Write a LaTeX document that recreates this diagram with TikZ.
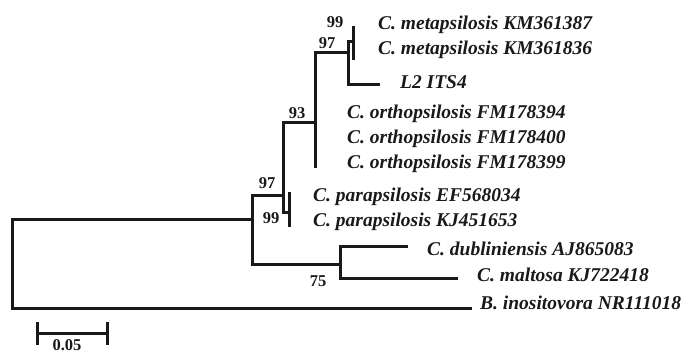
\documentclass[tikz,border=0pt]{standalone}
\usepackage{fontspec}
\setmainfont{Liberation Serif}
\usetikzlibrary{positioning}

\begin{document}
\begin{tikzpicture}[x=1pt, y=-1pt,
    branch/.style={line width=3pt, draw=black!90},
    taxon/.style={anchor=base west, inner sep=0pt, text=black!90,
                  font=\fontsize{19.5}{20}\selectfont\bfseries\itshape},
    support/.style={inner sep=0pt, text=black!90,
                    font=\fontsize{16.5}{17}\selectfont\bfseries}]
    \useasboundingbox (0,0) rectangle (689,353);
    % --- Nos internos ---
    \coordinate (root) at (12,260);
    \coordinate (nA) at (252,219);
    \coordinate (nB) at (283,195);
    \coordinate (n93) at (315,123);
    \coordinate (orthoEnd) at (315,168);
    \coordinate (n97) at (348,53);
    \coordinate (nMeta) at (353,42);
    \coordinate (metaTop) at (353,26);
    \coordinate (metaBot) at (353,60);
    \coordinate (nPara) at (289,212);
    \coordinate (paraTop) at (289,192);
    \coordinate (paraBot) at (289,227);
    \coordinate (n75) at (340,264);
    % --- Pontas dos ramos ---
    \coordinate (l2End) at (380,85);
    \coordinate (dubEnd) at (408,246);
    \coordinate (malEnd) at (458,278);
    \coordinate (inosEnd) at (472,308);
    % --- Ramos ---
    \draw[branch] (nA) -| (root) |- (inosEnd);
    \draw[branch] (nB) -| (nA) |- (n75);
    \draw[branch] (n93) -| (nB) |- (nPara);
    \draw[branch] (n97) -| (n93) -- (orthoEnd);
    \draw[branch] (nMeta) -| (n97) |- (l2End);
    \draw[branch] (metaTop) -- (metaBot);
    \draw[branch] (paraTop) -- (paraBot);
    \draw[branch] (dubEnd) -| (n75) |- (malEnd);
    % --- Taxons ---
    \node[taxon] (meta1) at (378,29.5) {C. metapsilosis KM361387};
    \node[taxon] (meta2) at (378,54.5) {C. metapsilosis KM361836};
    \node[taxon] (l2its) at (400,88.5) {L2 ITS4};
    \node[taxon] (ortho1) at (347,118.5) {C. orthopsilosis FM178394};
    \node[taxon] (ortho2) at (347,143.5) {C. orthopsilosis FM178400};
    \node[taxon] (ortho3) at (347,168.5) {C. orthopsilosis FM178399};
    \node[taxon] (para1) at (313,201.5) {C. parapsilosis EF568034};
    \node[taxon] (para2) at (313,226.5) {C. parapsilosis KJ451653};
    \node[taxon] (dub) at (427,255.5) {C. dubliniensis AJ865083};
    \node[taxon] (mal) at (477,281.5) {C. maltosa KJ722418};
    \node[taxon] (inos) at (480,309.5) {B. inositovora NR111018};
    % --- Bootstrap ---
    \node[support] (bsMeta) at (335,22) {99};
    \node[support] (bs97a) at (327,43) {97};
    \node[support] (bs93) at (297,113) {93};
    \node[support] (bs97b) at (267,183) {97};
    \node[support] (bsPara) at (271,218) {99};
    \node[support] (bs75) at (318,281) {75};
    % --- Escala ---
    \coordinate (sbL) at (37,333);
    \coordinate (sbR) at (107,333);
    \coordinate (sbLt) at (37,322);
    \coordinate (sbLb) at (37,345);
    \coordinate (sbRt) at (107,322);
    \coordinate (sbRb) at (107,345);
    \draw[branch] (sbL) -- (sbR);
    \draw[branch] (sbLt) -- (sbLb);
    \draw[branch] (sbRt) -- (sbRb);
    \node[support] (scale) at (67,345) {0.05};
\end{tikzpicture}
\end{document}
